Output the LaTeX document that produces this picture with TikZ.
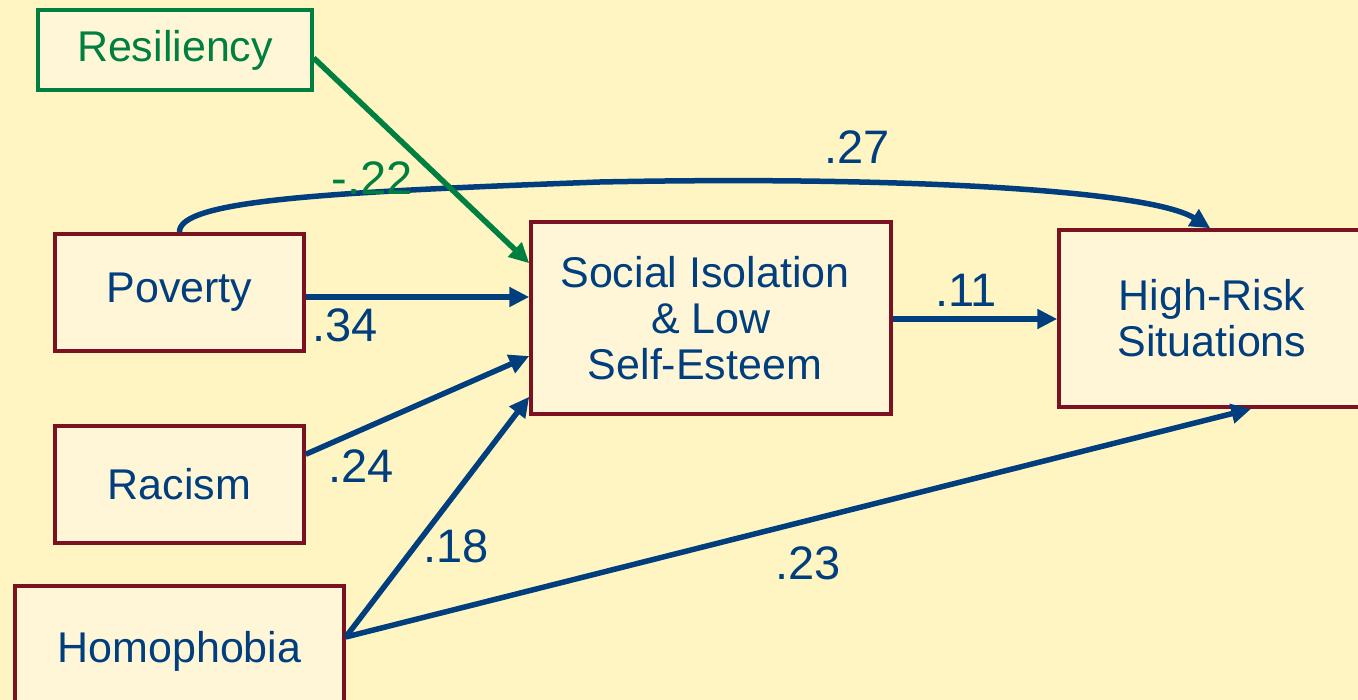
\documentclass[tikz,border=0pt]{standalone}
\usepackage{fontspec}
\setmainfont{Liberation Sans}
\usetikzlibrary{arrows.meta}
\definecolor{bgy}{RGB}{255,245,195}
\definecolor{boxfill}{RGB}{255,246,216}
\definecolor{dblue}{RGB}{0,62,126}
\definecolor{dgreen}{RGB}{0,128,64}
\definecolor{dred}{RGB}{122,18,34}
\tikzset{
  varbox/.style={draw=dred, line width=3.5pt, fill=boxfill, text=dblue, font=\fontsize{43}{46}\selectfont, align=center, inner sep=0pt},
  resbox/.style={varbox, draw=dgreen, text=dgreen},
  path/.style={draw=dblue, line width=5.5pt, -{Triangle[length=20pt,width=19pt]}},
  gpath/.style={path, draw=dgreen},
  coef/.style={text=dblue, font=\fontsize{47}{50}\selectfont, inner sep=0pt},
  gcoef/.style={coef, text=dgreen}
}
\begin{document}
\begin{tikzpicture}[x=1pt,y=-1pt]
\useasboundingbox (0,0) rectangle (1358,700);
\clip (0,0) rectangle (1358,700);
\fill[bgy] (-5,-5) rectangle (1365,705);
% boxes
\node[resbox, minimum width=274pt, minimum height=80pt] (res) at (175,50) {Resiliency};
\node[varbox, minimum width=249pt, minimum height=117pt] (pov) at (179.5,292.5) {Poverty};
\node[varbox, minimum width=249pt, minimum height=117pt] (rac) at (179.5,484.5) {Racism};
\node[varbox, minimum width=329pt, minimum height=130pt] (hom) at (179.5,651) {Homophobia};
\node[varbox, minimum width=360pt, minimum height=192pt] (soc) at (711,318) {Social Isolation\hspace*{12pt}\\\& Low\hspace*{12pt}\\Self-Esteem\hspace*{12pt}};
\node[varbox, minimum width=306pt, minimum height=177pt] (hrs) at (1212,318.5) {High-Risk\\Situations};
% connectors
\coordinate (topmid) at (600,182);
\draw[path] (pov.north) .. controls (178,200) and (330,192) .. (topmid)
  .. controls (900,176) and (1150,190) .. ([xshift=153pt]hrs.north west);
\draw[gpath] ([yshift=-8pt]res.east) -- ([yshift=-43pt]soc.north west);
\draw[path] ([yshift=-4.5pt]pov.east) -- ([yshift=-4.5pt]pov.east -| soc.west);
\draw[path] ([yshift=-30pt]rac.north east) -- ([yshift=-38pt]soc.west);
\draw[path] ([yshift=14pt]hom.east) -- ([yshift=19pt]soc.south west);
\draw[path] ([yshift=14pt]hom.east) -- ([xshift=194pt]hrs.south west);
\draw[path] ([yshift=-1pt]soc.east) -- ([yshift=-1pt]soc.east -| hrs.west);
% coefficients
\node[gcoef] (c22) at (372,178) {-.22};
\node[coef] (c27) at (857,147) {.27};
\node[coef] (c34) at (345,325) {.34};
\node[coef] (c11) at (966,290) {.11};
\node[coef] (c24) at (361,466) {.24};
\node[coef] (c18) at (456,546) {.18};
\node[coef] (c23) at (808,563) {.23};
\end{tikzpicture}
\end{document}
